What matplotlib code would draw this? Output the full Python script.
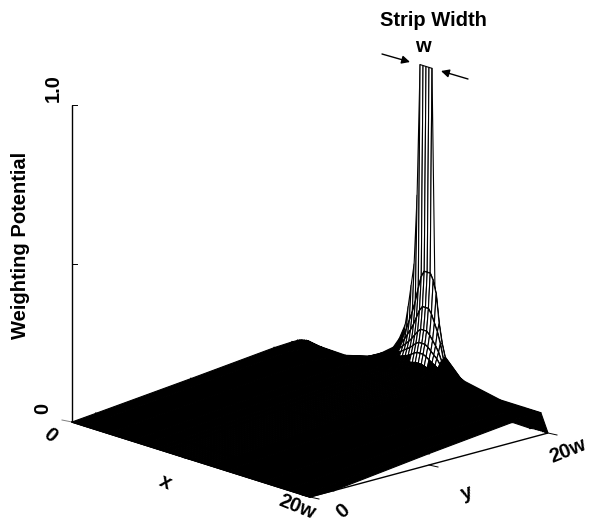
import numpy as np
import matplotlib
matplotlib.use("Agg")
import matplotlib.pyplot as plt
from matplotlib.collections import PolyCollection

plt.rcParams['font.family'] = ['Liberation Sans', 'DejaVu Sans']

# grid lines, in units of the strip width w
x_grid = [0, 1, 3, 5, 6, 7, 7.5, 8, 8.25, 8.5, 8.75, 9, 9.25, 9.5, 9.75, 10, 10.25, 10.5, 10.75, 11, 11.25, 11.5, 13, 16, 18, 19.4, 20]
y_grid = [0, 2, 10, 17, 18.5, 18.95, 19.1, 19.25, 19.4, 19.55, 19.7, 19.85, 20]

# weighting potential, one row per y_grid value
row_00 = [0] * 27
row_02 = [.007] + [.006] * 25 + [0]
row_10 = [.036, .034] + [.033] * 20 + [.034, .036, .038, .04, .036]
row_17 = [.063, .06, .055, .056, .057, .058, .059, .06, .06, .061, .061, .062, .062, .062, .062, .062, .062, .062, .061, .061, .06, .06, .058, .056, .057, .058, .064]
row_18a = [.066, .056, .052, .058, .061, .064, .066, .069, .071, .072, .073, .074, .075, .076, .077, .077, .077, .076, .075, .074, .073, .071, .063, .056, .057, .058, .03]
row_18b = [.066, .052, .047, .06, .067, .073, .076, .08, .082, .083, .085, .086, .088, .089, .09, .09, .09, .089, .087, .086, .084, .082, .068, .056, .057, .058, .023]
row_19a = [.065, .05, .046, .061, .07, .079, .085, .092, .095, .097, .1, .102, .105, .107, .11, .11, .11, .107, .104, .102, .099, .095, .072, .056, .057, .058, .02]
row_19b = [.064, .05, .046, .062, .073, .086, .094, .105, .11, .114, .118, .122, .128, .135, .14, .14, .14, .135, .128, .122, .116, .11, .075, .056, .057, .058, .017]
row_19c = [.062, .05, .045, .063, .076, .092, .103, .118, .124, .131, .138, .145, .154, .164, .17, .17, .17, .164, .154, .145, .136, .122, .077, .056, .057, .058, .014]
row_19d = [.06, .05, .045, .064, .08, .098, .112, .13, .14, .15, .16, .172, .186, .2, .21, .21, .21, .2, .186, .172, .155, .13, .078, .056, .057, .058, .01]
row_19e = [.058, .05, .045, .065, .083, .103, .12, .145, .16, .178, .195, .215, .24, .265, .28, .28, .28, .265, .24, .215, .18, .135, .079, .056, .057, .058, .007]
row_19f = [.055, .048, .044, .065, .085, .108, .13, .165, .19, .22, .25, .285, .33, .37, .39, .39, .39, .37, .33, .24, .18, .14, .08, .057, .057, .058, .003]
row_20 = [.05, .046, .044, .065, .087, .117, .15, .2, .26, .33, .4, .62, 1.035, 1.035, 1.035, 1.035, 1.035, .34, .17, .15, .125, .107, .08, .057, .057, .057, 0]

z_rows = [row_00, row_02, row_10, row_17, row_18a, row_18b, row_19a, row_19b, row_19c, row_19d, row_19e, row_19f, row_20]

x_ticks = [0, 10, 20]
y_ticks = [0, 10, 20]
z_ticks = [0, 0.5, 1.0]


def project(x, y, z):
    # oblique view, result is in image pixels
    return 72 + 11.9 * x + 11.9 * y, 422 + 3.75 * x - 3.2 * y - 317 * z


fig = plt.figure(figsize=(5.89, 5.22), dpi=100)
ax = fig.add_axes([0, 0, 1, 1])
ax.set_xlim(0, 589)
ax.set_ylim(522, 0)
ax.axis('off')

# strips of faces from the back to the front, so nearer ones cover farther ones
z = np.array(z_rows)
order = 2
for j in range(len(y_grid) - 1, 0, -1):
    faces = []
    colors = []
    for i in range(len(x_grid) - 1):
        corners = [(i, j), (i + 1, j), (i + 1, j - 1), (i, j - 1)]
        faces.append([project(x_grid[a], y_grid[b], z[b, a]) for a, b in corners])
        mean_z = np.mean([z[b, a] for a, b in corners])
        in_mesh = 8 <= x_grid[i] and x_grid[i + 1] <= 11.5 and mean_z > 0.115
        colors.append('white' if in_mesh else 'black')
    ax.add_collection(PolyCollection(faces, facecolors=colors, edgecolors='black', linewidths=0.8, zorder=order))
    # the cross lines show up darker than the lines along y
    arc = [project(x_grid[i], y_grid[j - 1], z[j - 1, i]) for i in range(len(x_grid))]
    ax.plot([p[0] for p in arc], [p[1] for p in arc], color='black', lw=1.2, zorder=order + 0.5)
    order += 1

# axes
line_kw = dict(color='black', lw=1.0, solid_capstyle='butt', zorder=order)
ends = [[(0, 0, 0), (0, 0, 1.0)], [(0, 0, 0), (20, 0, 0)], [(20, 0, 0), (20, 20, 0)]]
for p0, p1 in ends:
    q0 = project(*p0)
    q1 = project(*p1)
    ax.plot([q0[0], q1[0]], [q0[1], q1[1]], **line_kw)
for t in z_ticks[1:]:
    px, py = project(0, 0, t)
    ax.plot([px, px + 5], [py, py], color='black', lw=0.7)
px, py = project(0, 0, 0)
ax.plot([px - 10, px], [py - 2, py], color='0.5', lw=0.7)
for t in x_ticks[1:]:
    px, py = project(t, 0, 0)
    ax.plot([px - 8, px], [py - 2, py], color='black', lw=0.7)
for t in y_ticks:
    px, py = project(20, t, 0)
    ax.plot([px, px + 9], [py, py + 2], color='black', lw=0.7)

# labels
txt = dict(fontweight='bold', fontsize=14.5, ha='center', va='center', color='black')
ax.text(433, 21, 'Strip Width', **txt)
ax.text(423, 47, 'w', **txt)
ax.text(21, 245, 'Weighting Potential', rotation=90, **txt)
ax.text(53, 88, '1.0', rotation=90, **txt)
ax.text(43, 408, '0', rotation=90, **txt)
ax.text(50, 435, '0', rotation=-40, **txt)
ax.text(165, 482, 'x', rotation=-25, **txt)
ax.text(297, 507, '20w', rotation=-22, **txt)
ax.text(343, 511, '0', rotation=40, **txt)
ax.text(467, 493, 'y', rotation=20, **txt)
ax.text(568, 451, '20w', rotation=22, **txt)

# strip width arrows
arrow = dict(arrowstyle='-|>', color='black', lw=1.0, mutation_scale=12, shrinkA=0, shrinkB=0)
ax.annotate('', xy=(410, 62), xytext=(382, 54), arrowprops=arrow)
ax.annotate('', xy=(441, 71), xytext=(468, 79), arrowprops=arrow)

fig.savefig('out.png', dpi=100)
